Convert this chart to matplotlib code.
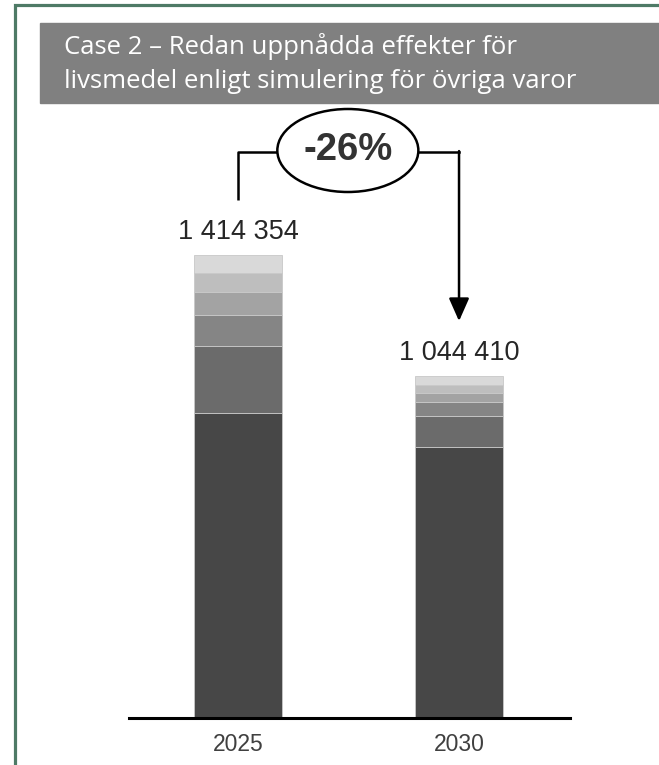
import matplotlib.pyplot as plt
from matplotlib.patches import Rectangle, Ellipse
from matplotlib.lines import Line2D

years = ['2025', '2030']
totals = [1414354, 1044410]
# stacked segments, bottom to top
seg_2025 = [931800, 204700, 94700, 70300, 58000, 54854]
seg_2030 = [827500, 94700, 42800, 27500, 24400, 27510]
colors = ['#474747', '#6b6b6b', '#858585', '#a3a3a3', '#bebebe', '#d9d9d9']
change_label = '-26%'

W, H = 659, 765
fig = plt.figure(figsize=(W / 100, H / 100), dpi=100)

# frame (left + top green lines) and grey title box, figure coords
green = '#4e7a66'
fig.add_artist(Line2D([14.5 / W, 14.5 / W, 1.0], [0, 1 - 5 / H, 1 - 5 / H],
                      transform=fig.transFigure, color=green, lw=2.3,
                      solid_joinstyle='miter'))
fig.add_artist(Rectangle((40 / W, 1 - 103 / H), 1, 80 / H, transform=fig.transFigure,
                         color='#808080', zorder=0))
title_font = ['Open Sans', 'DejaVu Sans']
fig.text(64 / W, 1 - 47 / H, 'Case 2 – Redan uppnådda effekter för', color='white',
         fontsize=18.5, family=title_font, va='center')
fig.text(64 / W, 1 - 81 / H, 'livsmedel enligt simulering för övriga varor', color='white',
         fontsize=18.5, family=title_font, va='center')

# chart axes
ax = fig.add_axes([129 / W, 1 - 718 / H, 441 / W, 613 / H])
x = [0, 1]
per_px = 1414354 / 463
ax.set_xlim(-0.493, 1.502)
ax.set_ylim(0, 613 * per_px)

bottoms = [0, 0]
for i in range(len(colors)):
    vals = [seg_2025[i], seg_2030[i]]
    ax.bar(x, vals, width=0.40, bottom=bottoms, color=colors[i],
           edgecolor='#c8c8c8', linewidth=0.6)
    bottoms = [bottoms[0] + vals[0], bottoms[1] + vals[1]]

for xi, t in zip(x, totals):
    ax.text(xi, t + 16 * per_px, f'{t:,}'.replace(',', ' '), ha='center', va='baseline',
            fontsize=19.5, family='Liberation Sans', color='#262626')

for s in ['top', 'right', 'left']:
    ax.spines[s].set_visible(False)
ax.spines['bottom'].set_linewidth(2.2)
ax.spines['bottom'].set_color('black')
ax.set_yticks([])
ax.set_xticks(x)
ax.set_xticklabels(years, fontsize=16.5, family='Liberation Sans', color='#404040')
ax.tick_params(axis='x', length=0, pad=11)

# change annotation
y_line = totals[0] + 103 * per_px
ell_w = 141 / 221
ax.plot([0, 0, 0.5 - ell_w / 2], [totals[0] + 55 * per_px, y_line, y_line],
        color='black', lw=1.8, clip_on=False, solid_capstyle='butt')
ax.plot([0.5 + ell_w / 2, 1], [y_line, y_line], color='black', lw=1.8, clip_on=False)
ax.annotate('', xy=(1, totals[1] + 55 * per_px), xytext=(1, y_line + 0.9 * per_px),
            arrowprops=dict(arrowstyle='-|>,head_length=1.4,head_width=0.62',
                            color='black', lw=1.8, shrinkA=0, shrinkB=0),
            annotation_clip=False)
ax.add_patch(Ellipse((0.5 - 0.003, y_line + 1.5 * per_px), ell_w, 83 * per_px,
                     facecolor='white', edgecolor='black', lw=1.8, clip_on=False, zorder=5))
ax.text(0.5 - 0.003, y_line + 1.5 * per_px, change_label, ha='center', va='center',
        fontsize=27.5, fontweight='bold', family='Liberation Sans', color='#333333', zorder=6)

fig.savefig('out.png', dpi=100)
